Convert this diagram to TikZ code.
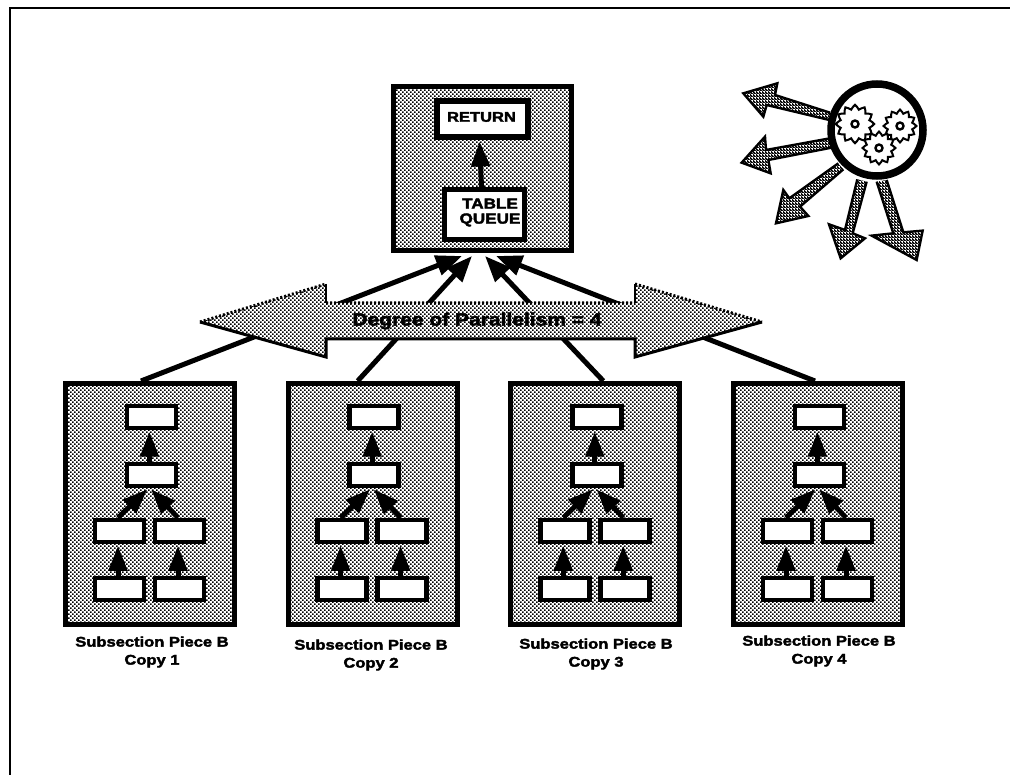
\documentclass[tikz,border=0pt]{standalone}
\usepackage{fontspec}
\setmainfont{Liberation Sans}[BoldFeatures={FakeBold=2.5,FakeStretch=1.18}]
\usetikzlibrary{patterns,arrows.meta}
\pgfdeclarepatternformonly{halftone}{\pgfqpoint{-0.5pt}{-0.5pt}}{\pgfqpoint{4pt}{4pt}}{\pgfqpoint{4pt}{4pt}}{%
  \pgfpathrectangle{\pgfqpoint{0pt}{0pt}}{\pgfqpoint{1.6pt}{1.6pt}}%
  \pgfpathrectangle{\pgfqpoint{2pt}{2pt}}{\pgfqpoint{1.6pt}{1.6pt}}%
  \pgfusepath{fill}}
\pgfdeclarepatternformonly{hatch}{\pgfqpoint{0pt}{0pt}}{\pgfqpoint{3pt}{3pt}}{\pgfqpoint{3pt}{3pt}}{%
  \pgfsetlinewidth{2pt}%
  \pgfpathmoveto{\pgfqpoint{-0.5pt}{3.5pt}}\pgfpathlineto{\pgfqpoint{3.5pt}{-0.5pt}}%
  \pgfusepath{stroke}}
\tikzset{
  panel/.style={draw=black,line width=5pt,preaction={fill=white},pattern=halftone,pattern color=black,inner sep=0pt,minimum width=#1},
  opbox/.style={draw=black,line width=4.5pt,fill=white,inner sep=0pt,minimum width=49pt,minimum height=22pt},
  flow/.style={line width=5pt,shorten >=1.5pt,-{Triangle[length=25pt,width=18pt]}},
  feed/.style={line width=5pt,-{Triangle[length=26pt,width=20pt]}},
  lbl/.style={font=\fontsize{14pt}{18pt}\selectfont\bfseries,align=center,inner sep=0pt},
  hatcharrow/.style={draw=black,line width=2.4pt,line join=miter,preaction={fill=white},pattern=hatch,pattern color=black},
  gear/.style={draw=black,line width=2pt,fill=white}
}
\newcommand{\gearpath}[3]{% cx cy radius
  \draw[gear,line join=miter] plot[samples=49,domain=0:360] ({#1+#3*(1+0.13*cos(12*\x))*cos(\x)},{#2+#3*(1+0.13*cos(12*\x))*sin(\x)}) -- cycle;
  \draw[draw=black,line width=2.4pt,fill=white] (#1,#2) circle[radius=3.5pt];
}
\begin{document}
\begin{tikzpicture}[x=1pt,y=-1pt]
\useasboundingbox (0,0) rectangle (1010,775);
% page edge
\coordinate (tr) at (1010,8);
\coordinate (tl) at (10,8);
\coordinate (bl) at (10,775);
\draw[line width=1.6pt] (tr) -- (tl) -- (bl);

% top panel
\node[panel=178pt,minimum height=164pt] (top) at (482.5,168.5) {};
\node[draw=black,line width=6pt,fill=white,inner sep=0pt,minimum width=91pt,minimum height=36pt] (ret) at (482.5,119) {};
\node[draw=black,line width=5pt,fill=white,inner sep=0pt,minimum width=80pt,minimum height=50pt] (tq) at (484.5,214.5) {};
\node[lbl] (rettext) at (481.5,117) {RETURN};
\node[lbl,font=\fontsize{14.5pt}{15pt}\selectfont\bfseries] (tqtext) at (490,212.5) {TABLE\\QUEUE};
\draw[flow] ([xshift=-3pt]tq.north) -- ([xshift=-3pt]ret.south);

% copies
\foreach \i/\dx/\ly/\lx in {1/0/643/152,2/222.67/646/371,3/445.33/645/596,4/668/642/819}{
  \begin{scope}[shift={(\dx,0)}]
    \node[panel=169pt,minimum height=241pt] (b\i) at (150,504) {};
    \node[opbox] (a\i) at (151.5,417) {};
    \node[opbox] (c\i) at (151.5,475) {};
    \node[opbox] (d\i) at (119.5,531) {};
    \node[opbox] (e\i) at (179.5,531) {};
    \node[opbox] (f\i) at (119.5,589) {};
    \node[opbox] (g\i) at (179.5,589) {};
    \draw[flow] ([xshift=-2pt]c\i.north) -- ([xshift=-2pt]a\i.south);
    \draw[flow] ([xshift=-1.5pt]d\i.north) -- ([xshift=-3pt]c\i.south);
    \draw[flow] ([xshift=-1.5pt]e\i.north) -- ([xshift=-1.5pt]c\i.south);
    \draw[flow] ([xshift=-1.5pt]f\i.north) -- ([xshift=-1.5pt]d\i.south);
    \draw[flow] ([xshift=-1.5pt]g\i.north) -- ([xshift=-1.5pt]e\i.south);
  \end{scope}
  \node[lbl] (l\i) at (\lx,\ly+9) {Subsection Piece B\\Copy \i};
}

% connectors into the top panel
\draw[feed] ([xshift=-9pt]b1.north) -- ([xshift=-20.5pt,yshift=-3pt]top.south);
\draw[feed] ([xshift=-15pt]b2.north) -- ([xshift=-10.5pt,yshift=-3pt]top.south);
\draw[feed] ([xshift=8pt]b3.north) -- ([xshift=2.5pt,yshift=-3pt]top.south);
\draw[feed] ([xshift=-3pt]b4.north) -- ([xshift=13.5pt,yshift=-3pt]top.south);

% degree of parallelism double arrow
\path[preaction={fill=white},pattern=halftone,pattern color=black]
  (200,322) -- (326,284) -- (326,303) -- (635,303) -- (635,284) -- (762,322) -- (635,357) -- (635,339) -- (326,339) -- (326,357) -- cycle;
\draw[line width=3pt,line join=miter] (200,322) -- (326,357) -- (326,339) -- (635,339) -- (635,357) -- (762,322);
\draw[line width=2pt] (326,284) -- (326,303) (635,284) -- (635,303);
\draw[line width=3pt,dash pattern=on 2pt off 2pt] (200,322) -- (326,284) (326,303) -- (635,303) (635,284) -- (762,322);
\node[lbl,font=\fontsize{17.8pt}{22pt}\selectfont\bfseries] (dop) at (477,321) {Degree of Parallelism = 4};

% processor with gears
\begin{scope}[shift={(730,70)},x=0.3333pt,y=-0.3333pt]
  \draw[hatcharrow] (300,128) -- (135,75) -- (142,40) -- (40,70) -- (100,140) -- (110,105) -- (298,150);
  \draw[hatcharrow] (300,205) -- (108,240) -- (105,200) -- (35,278) -- (122,310) -- (115,270) -- (310,232);
  \draw[hatcharrow] (325,280) -- (178,385) -- (160,360) -- (138,460) -- (235,438) -- (210,410) -- (340,298);
  \draw[hatcharrow] (382,328) -- (345,480) -- (297,463) -- (332,565) -- (405,505) -- (368,490) -- (410,335);
  \draw[hatcharrow] (440,335) -- (490,490) -- (425,497) -- (560,570) -- (578,482) -- (520,487) -- (470,330);
\end{scope}
\node[circle,draw=black,line width=7.5pt,fill=white,inner sep=0pt,minimum size=92pt] (proc) at (877,130) {};
\gearpath{855}{124}{17}
\gearpath{900}{126}{14.5}
\gearpath{879}{148}{14.5}
\end{tikzpicture}
\end{document}
